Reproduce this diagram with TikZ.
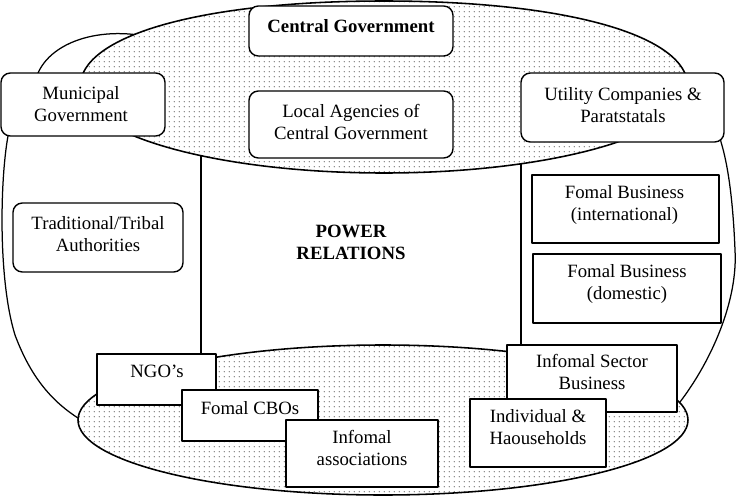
\documentclass[tikz,border=0pt]{standalone}
\usepackage{fontspec}
\setmainfont{Liberation Serif}
\usetikzlibrary{patterns.meta}
\tikzdeclarepattern{
  name=sparsedots,
  type=uncolored,
  bounding box={(0pt,0pt) and (3.3pt,3.3pt)},
  tile size={(3.3pt,3.3pt)},
  code={\pgfpathcircle{\pgfpoint{1.65pt}{1.65pt}}{0.48pt}\pgfusepath{fill}}
}
\begin{document}
\begin{tikzpicture}[x=0.64pt,y=-0.64pt,
  line join=round,
  wh/.style 2 args={minimum width=#1*0.64pt, minimum height=#2*0.64pt},
  boxbase/.style={draw, fill=white, line width=0.9pt, inner sep=0pt},
  rbox/.style={boxbase, rounded corners=6pt},
  sbox/.style={boxbase},
  txt/.style={align=center, font=\fontsize{12}{14}\selectfont, inner sep=0pt},
  btxt/.style={align=center, font=\fontsize{12}{14}\selectfont\bfseries, inner sep=0pt},
  dotarea/.style={line width=1pt, preaction={fill=white}, pattern=sparsedots, pattern color=black!60},
  outerline/.style={line width=0.8pt},
  divider/.style={line width=0.8pt}
]
\useasboundingbox (0,0) rectangle (736,498);

% outer boundary
\draw[outerline] (175,45) .. controls (120,22) and (55,35) .. (38,73)
  .. controls (25,100) and (12,120) .. (8,136)
  .. controls (0,180) and (-2,280) .. (15,335)
  .. controls (30,375) and (50,400) .. (78,418)
  .. controls (150,450) and (600,440) .. (660,415)
  .. controls (668,410) and (675,406) .. (680,402)
  .. controls (712,360) and (738,300) .. (735,250)
  .. controls (733,200) and (728,165) .. (721,142)
  .. controls (716,115) and (705,100) .. (680,95)
  -- cycle;

% dividers of the central area
\coordinate (dl1) at (201,100);
\coordinate (dl2) at (201,380);
\coordinate (dr1) at (521,100);
\coordinate (dr2) at (521,380);
\draw[divider] (dl1) -- (dl2);
\draw[divider] (dr1) -- (dr2);

% top dotted ellipse
\draw[dotarea] (80,87) .. controls (80,35.4) and (201.6,1) .. (384,1)
  .. controls (566.4,1) and (688,35.4) .. (688,87)
  .. controls (688,134.5) and (551.8,173) .. (384,173)
  .. controls (216.2,173) and (80,134.5) .. (80,87) -- cycle;

% bottom dotted ellipse
\draw[dotarea] (78,420) .. controls (78,378.6) and (214.6,345) .. (383,345)
  .. controls (551.4,345) and (688,378.6) .. (688,420)
  .. controls (688,461.4) and (551.4,495) .. (383,495)
  .. controls (214.6,495) and (78,461.4) .. (78,420) -- cycle;

% rounded boxes
\node[rbox, wh={204}{50}] (cg) at (351,31) {};
\node[btxt] (cgt) at (351,28) {\strut Central Government};
\node[rbox, wh={204}{67}] (la) at (351,124.5) {};
\node[txt] (lat) at (351,124) {\strut Local Agencies of\\\strut Central Government};
\node[rbox, wh={164}{63}] (mg) at (83,104.5) {};
\node[txt] (mgt) at (81,106) {\strut Municipal\\\strut Government};
\node[rbox, wh={203}{69}] (uc) at (622.5,107.5) {};
\node[txt] (uct) at (623,107) {\strut Utility Companies \&\\\strut Paratstatals};
\node[rbox, wh={170}{69}] (tt) at (98,237.5) {};
\node[txt] (ttt) at (98,236) {\strut Traditional/Tribal\\\strut Authorities};

% centre label
\node[btxt] (pr) at (351,244) {\strut POWER\\\strut RELATIONS};

% formal business boxes
\node[sbox, wh={187}{68}] (fi) at (625.5,209) {};
\node[txt] (fit) at (624.5,205.5) {\strut Fomal Business\\\strut (international)};
\node[sbox, wh={188}{69}] (fd) at (627,288.5) {};
\node[txt] (fdt) at (627,284.5) {\strut Fomal Business\\\strut (domestic)};

% bottom boxes
\node[sbox, wh={119}{51}] (ngo) at (156.5,379.5) {};
\node[txt] (ngot) at (157,373) {\strut NGO’s};
\node[sbox, wh={136}{51}] (cbo) at (250,415.5) {};
\node[txt] (cbot) at (250,410) {\strut Fomal CBOs};
\node[sbox, wh={152}{67}] (ia) at (362,453.5) {};
\node[txt] (iat) at (362,450.5) {\strut Infomal\\\strut associations};
\node[sbox, wh={170}{67}] (isb) at (592,378.5) {};
\node[txt] (isbt) at (592,374.5) {\strut Infomal Sector\\\strut Business};
\node[sbox, wh={136}{68}] (ih) at (538,433) {};
\node[txt] (iht) at (538,429) {\strut Individual \&\\\strut Haouseholds};
\end{tikzpicture}
\end{document}
